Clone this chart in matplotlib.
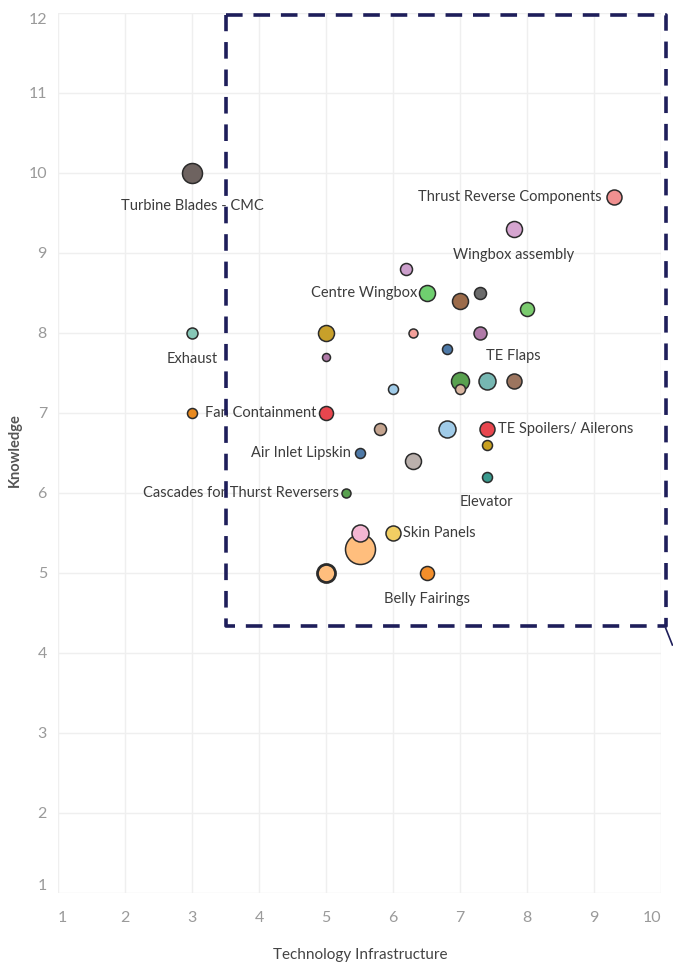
import matplotlib
matplotlib.use("Agg")
import matplotlib.pyplot as plt

# ---------------- data ----------------
tech = [3.0, 9.3, 7.8, 6.2, 6.5, 7.0, 7.3, 8.0, 5.0, 6.3, 7.3, 3.0, 5.0, 6.8,
        7.0, 7.0, 7.4, 7.8, 6.0, 3.0, 5.0, 5.8, 6.8, 7.4, 7.4, 5.5, 6.3, 7.4,
        5.3, 5.5, 5.5, 6.0, 5.0, 6.5]
knowledge = [10.0, 9.7, 9.3, 8.8, 8.5, 8.4, 8.5, 8.3, 8.0, 8.0, 8.0, 8.0, 7.7, 7.8,
             7.4, 7.3, 7.4, 7.4, 7.3, 7.0, 7.0, 6.8, 6.8, 6.8, 6.6, 6.5, 6.4, 6.2,
             6.0, 5.3, 5.5, 5.5, 5.0, 5.0]
bubble = [10, 7.5, 8, 6, 8, 8, 6, 7, 8, 4.5, 6.5, 5.5, 4, 5,
          9, 5, 8.5, 7.5, 5, 5, 7, 6, 8.5, 7.5, 5, 5, 8, 5,
          4.5, 15, 8.5, 7.5, 9, 7]
names = ["Turbine Blades - CMC", "Thrust Reverse Components", "Wingbox assembly", "",
         "Centre Wingbox", "", "", "", "", "", "", "Exhaust", "", "",
         "", "", "", "TE Flaps", "", "", "Fan Containment", "", "", "TE Spoilers/ Ailerons",
         "", "Air Inlet Lipskin", "", "Elevator",
         "Cascades for Thurst Reversers", "", "", "Skin Panels", "", "Belly Fairings"]

# ---------------- style ----------------
colors = ["#6e6360", "#f09090", "#d6a5d0", "#cc9fcc", "#6fcf6f", "#9c6b4a", "#6b6b6b",
          "#7acb6e", "#c8a02a", "#f4a09a", "#b07aa8", "#86c7b6", "#b07aa8", "#4e79a7",
          "#59a14f", "#d9b5a0", "#76b7b2", "#9c755f", "#a0cbe8", "#e8891e", "#e8464e",
          "#c4a48f", "#a0cbe8", "#e8464e", "#c8a020", "#4e79a7", "#bab0ac", "#3a9a8e",
          "#59a14f", "#ffbe7d", "#f4b6d2", "#f1ce63", "#ffbe7d", "#f28e2b"]
# label offsets in points and alignment
label_pos = {
    "Turbine Blades - CMC": (0, -24, "center"),
    "Thrust Reverse Components": (-9, 0, "right"),
    "Wingbox assembly": (0, -19, "center"),
    "Centre Wingbox": (-7, 0, "right"),
    "Exhaust": (0, -19, "center"),
    "TE Flaps": (0, 18, "center"),
    "Fan Containment": (-7, 0, "right"),
    "TE Spoilers/ Ailerons": (8, 0, "left"),
    "Air Inlet Lipskin": (-6, 0, "right"),
    "Elevator": (0, -18, "center"),
    "Cascades for Thurst Reversers": (-5, 0, "right"),
    "Skin Panels": (7, 0, "left"),
    "Belly Fairings": (0, -19, "center"),
}
box_x = (3.50, 10.07)
box_y = (4.34, 11.97)
navy = "#1e1e5a"

plt.rcParams['font.family'] = ['Lato', 'DejaVu Sans']

fig = plt.figure(figsize=(6.73, 9.73), dpi=100)
ax = fig.add_axes([58 / 673, 1 - 893 / 973, 603 / 673, 880 / 973])

for i in range(len(tech)):
    r = bubble[i]
    s = (2 * r * 0.72) ** 2
    lw = 2.0 if i == 32 else 1.1
    ax.scatter(tech[i], knowledge[i], s=s, color=colors[i], edgecolor="#2b2b2b",
               linewidth=lw, zorder=3 + i * 0.01)
    if names[i]:
        dx, dy, ha = label_pos[names[i]]
        ax.annotate(names[i], (tech[i], knowledge[i]), xytext=(dx, dy),
                    textcoords="offset points", ha=ha, va="center",
                    fontsize=10.5, color="#3c3c3c", zorder=5)

ax.set_xlim(1, 10)
ax.set_ylim(1, 12)
ax.set_xticks(range(1, 11))
ax.set_yticks(range(1, 13))
ax.grid(True, color="#efefef", linewidth=1)
ax.set_axisbelow(True)
for sp in ax.spines.values():
    sp.set_visible(False)
ax.tick_params(axis="x", length=0, labelsize=11.5, labelcolor="#9a9a9a", pad=13)
ax.tick_params(axis="y", length=0, labelsize=11.5, labelcolor="#9a9a9a", pad=8)

# edge tick labels pulled inward, like the original
xl = ax.get_xticklabels()
xl[0].set_horizontalalignment("left")
xl[-1].set_horizontalalignment("right")
yl = ax.get_yticklabels()
yl[0].set_verticalalignment("bottom")
yl[-1].set_verticalalignment("top")

# dashed highlight box
ax.plot([box_x[0], box_x[1], box_x[1], box_x[0], box_x[0]],
        [box_y[1], box_y[1], box_y[0], box_y[0], box_y[1]],
        color=navy, linewidth=2.6, linestyle=(0, (4.6, 3.0)), clip_on=False, zorder=6)
ax.plot([box_x[1], box_x[1] + 0.1], [box_y[0] - 0.03, box_y[0] - 0.24],
        color=navy, linewidth=1.2, clip_on=False, zorder=6)

fig.text(360 / 673, 1 - 955 / 973, "Technology Infrastructure", ha="center", va="center",
         fontsize=11, color="#444444")
fig.text(15 / 673, 1 - 450 / 973, "Knowledge", ha="center", va="center", rotation=90,
         fontsize=10.5, fontweight="bold", color="#555555")

fig.savefig("out.png", dpi=100)
